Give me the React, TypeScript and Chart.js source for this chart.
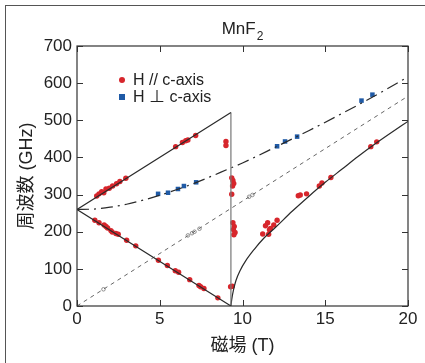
import { useEffect, useRef } from 'react';
import { Chart, registerables } from 'chart.js';

Chart.register(...registerables);

const FONT = "'Liberation Sans', Arial, 'Noto Sans CJK JP', sans-serif";

const xTicks = [0, 5, 10, 15, 20];
const yTicks = [0, 100, 200, 300, 400, 500, 600, 700];

const titleMain = 'MnF';
const titleSub = '2';
const xTitle = '磁場 (T)';
const yTitle = '周波数 (GHz)';
const legendParallel = 'H // c-axis';
const legendPerp = 'H ⊥ c-axis';

// H // c-axis measured points (field T, frequency GHz)
const parallelPts: [number, number][] = [
  [1.19, 296], [1.33, 302], [1.49, 308], [1.62, 305], [1.75, 315], [1.95, 317], [2.15, 323],
  [2.39, 329], [2.59, 335], [2.95, 344],
  [5.96, 429], [6.37, 440], [6.57, 445], [6.7, 447], [7.17, 459],
  [9.0, 443], [9.0, 432],
  [9.35, 345], [9.42, 338], [9.47, 330], [9.4, 323], [9.35, 301],
  [9.42, 224], [9.5, 214], [9.45, 206], [9.55, 198], [9.48, 192],
  [9.28, 52], [9.38, 53],
  [1.08, 231], [1.33, 224], [1.64, 218], [1.75, 214], [1.85, 210], [2.05, 203], [2.13, 199],
  [2.35, 195], [2.49, 193], [3.0, 177], [3.55, 162], [4.92, 123], [5.46, 109], [5.94, 95],
  [6.14, 91], [6.81, 71], [7.37, 55], [7.47, 52], [7.67, 47], [8.51, 22],
  [11.22, 194], [11.39, 216], [11.52, 224], [11.58, 193], [11.63, 205], [11.69, 209],
  [11.89, 218], [12.09, 231], [13.37, 297], [13.49, 299], [13.87, 302], [14.64, 323],
  [14.8, 331], [15.34, 346], [17.75, 429], [18.11, 442],
];

// H ⊥ c-axis measured points
const perpPts: [number, number][] = [
  [4.9, 302], [5.5, 305], [6.1, 315], [6.46, 323], [7.2, 333],
  [12.09, 430], [12.57, 443], [13.3, 456], [17.19, 553], [17.85, 569],
];

// small open markers on the dotted line
const openPts: [number, number][] = [
  [1.6, 45], [6.7, 190], [6.95, 196], [7.1, 200], [7.4, 208], [10.4, 294], [10.6, 299],
];

// theory lines
const afmBranches: [number, number][] = [[9.3, 521], [0, 260], [9.3, 0]];
const spinFlopEdge: [number, number][] = [[9.3, 521], [9.3, 0]];
const spinFlopCurve: [number, number][] = [
  [9.3, 0], [9.35, 18], [9.45, 42], [9.6, 68], [9.85, 95], [10.2, 122], [10.7, 152],
  [11.3, 183], [12, 212], [13, 255], [14, 295], [15, 333], [16, 368], [17, 403],
  [18, 436], [19, 467], [20, 497],
];
const perpCurve: [number, number][] = [
  [0, 260], [1, 261], [2, 266], [3, 274], [4, 285], [5, 298], [6, 313], [7, 329],
  [8, 347], [9, 366], [10, 385], [12, 428], [14, 472], [16, 518], [18, 566], [20, 617],
];
const paraLine: [number, number][] = [[0, 0], [20, 565]];

const RED = '#d7262c';
const BLUE = '#1f5aa6';

const toXY = (a: [number, number][]) => a.map(([x, y]) => ({ x, y }));

const overlayPlugin = {
  id: 'overlay',
  afterDraw(chart: any) {
    const { ctx, chartArea, scales } = chart;
    const { left, right, top, bottom } = chartArea;
    ctx.save();
    // frame
    ctx.strokeStyle = '#333';
    ctx.lineWidth = 1.2;
    ctx.strokeRect(left, top, right - left, bottom - top);
    // inward ticks on all sides
    ctx.lineWidth = 1;
    ctx.beginPath();
    scales.x.ticks.forEach((t: any) => {
      const px = Math.round(scales.x.getPixelForValue(t.value)) + 0.5;
      ctx.moveTo(px, bottom); ctx.lineTo(px, bottom - 6);
      ctx.moveTo(px, top); ctx.lineTo(px, top + 6);
    });
    scales.y.ticks.forEach((t: any) => {
      const py = Math.round(scales.y.getPixelForValue(t.value)) + 0.5;
      ctx.moveTo(left, py); ctx.lineTo(left + 6, py);
      ctx.moveTo(right, py); ctx.lineTo(right - 6, py);
    });
    ctx.stroke();

    // title
    ctx.fillStyle = '#222';
    ctx.textBaseline = 'alphabetic';
    ctx.font = `17px ${FONT}`;
    const w1 = ctx.measureText(titleMain).width;
    ctx.font = `12px ${FONT}`;
    const w2 = ctx.measureText(titleSub).width;
    const cx = (left + right) / 2;
    const x0 = cx - (w1 + 1 + w2) / 2;
    ctx.font = `17px ${FONT}`;
    ctx.fillText(titleMain, x0, 34);
    ctx.font = `12px ${FONT}`;
    ctx.fillText(titleSub, x0 + w1 + 1, 40);

    // legend
    const mx = left + 45;
    const y1 = top + 34;
    const y2 = top + 51;
    ctx.fillStyle = RED;
    ctx.beginPath();
    ctx.arc(mx, y1, 3, 0, Math.PI * 2);
    ctx.fill();
    ctx.fillStyle = BLUE;
    ctx.fillRect(mx - 3, y2 - 3, 6, 6);
    ctx.fillStyle = '#222';
    ctx.font = `16px ${FONT}`;
    ctx.textBaseline = 'middle';
    ctx.fillText(legendParallel, mx + 11, y1 + 1);
    ctx.fillText(legendPerp, mx + 11, y2 + 1);
    ctx.restore();
  },
};

export default function App() {
  const ref = useRef<HTMLCanvasElement | null>(null);
  useEffect(() => {
    if (!ref.current) return;
    const lineBase = { showLine: true, pointRadius: 0, pointHoverRadius: 0, fill: false };
    const chart = new Chart(ref.current, {
      type: 'scatter',
      data: {
        datasets: [
          { ...lineBase, label: 'branches', data: toXY(afmBranches), borderColor: '#2a2a2a', borderWidth: 1.2, tension: 0 },
          { ...lineBase, label: 'edge', data: toXY(spinFlopEdge), borderColor: '#777', borderWidth: 1.2, tension: 0 },
          { ...lineBase, label: 'spinflop', data: toXY(spinFlopCurve), borderColor: '#2a2a2a', borderWidth: 1.2, cubicInterpolationMode: 'monotone' },
          { ...lineBase, label: 'perp', data: toXY(perpCurve), borderColor: '#2a2a2a', borderWidth: 1.2, borderDash: [12, 5, 2, 5], cubicInterpolationMode: 'monotone' },
          { ...lineBase, label: 'para', data: toXY(paraLine), borderColor: '#666', borderWidth: 1, borderDash: [4, 4], tension: 0 },
          { label: 'open', data: toXY(openPts), showLine: false, pointRadius: 1.8, pointStyle: 'circle', borderColor: '#777', backgroundColor: 'rgba(255,255,255,0)', borderWidth: 0.8 },
          { label: legendPerp, data: toXY(perpPts), showLine: false, pointStyle: 'rect', pointRadius: 3.2, backgroundColor: BLUE, borderColor: BLUE, borderWidth: 0 },
          { label: legendParallel, data: toXY(parallelPts), showLine: false, pointStyle: 'circle', pointRadius: 2.7, backgroundColor: RED, borderColor: RED, borderWidth: 0 },
        ] as any,
      },
      options: {
        animation: false,
        responsive: false,
        devicePixelRatio: 1,
        layout: { padding: { left: 0, right: 17, top: 46, bottom: 0 } },
        plugins: { legend: { display: false }, tooltip: { enabled: false }, title: { display: false } },
        scales: {
          x: {
            type: 'linear', min: 0, max: 20,
            afterBuildTicks: (s: any) => { s.ticks = xTicks.map((v) => ({ value: v })); },
            afterFit: (s: any) => { s.height = 57; },
            grid: { display: false, drawTicks: false },
            border: { display: false },
            ticks: { padding: 3, color: '#222', font: { family: FONT, size: 17 } },
            title: { display: true, text: xTitle, color: '#222', font: { family: FONT, size: 18 }, padding: { top: 0, bottom: 6 } },
          },
          y: {
            type: 'linear', min: 0, max: 700,
            afterBuildTicks: (s: any) => { s.ticks = yTicks.map((v) => ({ value: v })); },
            afterFit: (s: any) => { s.width = 77; },
            grid: { display: false, drawTicks: false },
            border: { display: false },
            ticks: { padding: 5, color: '#222', font: { family: FONT, size: 17 } },
            title: { display: true, text: yTitle, color: '#222', font: { family: FONT, size: 18 }, padding: { top: 16, bottom: 0 } },
          },
        },
      } as any,
      plugins: [overlayPlugin],
    });
    return () => chart.destroy();
  }, []);
  return (
    <div style={{ position: 'absolute', left: 0, top: 0, width: 425, height: 363, background: '#fff' }}>
      <canvas ref={ref} width={425} height={363} style={{ display: 'block', width: 425, height: 363 }} />
      <div style={{ position: 'absolute', left: 5, top: 5, width: 420, height: 358, borderLeft: '1.5px solid #555', borderTop: '1.5px solid #555', pointerEvents: 'none' }} />
    </div>
  );
}
